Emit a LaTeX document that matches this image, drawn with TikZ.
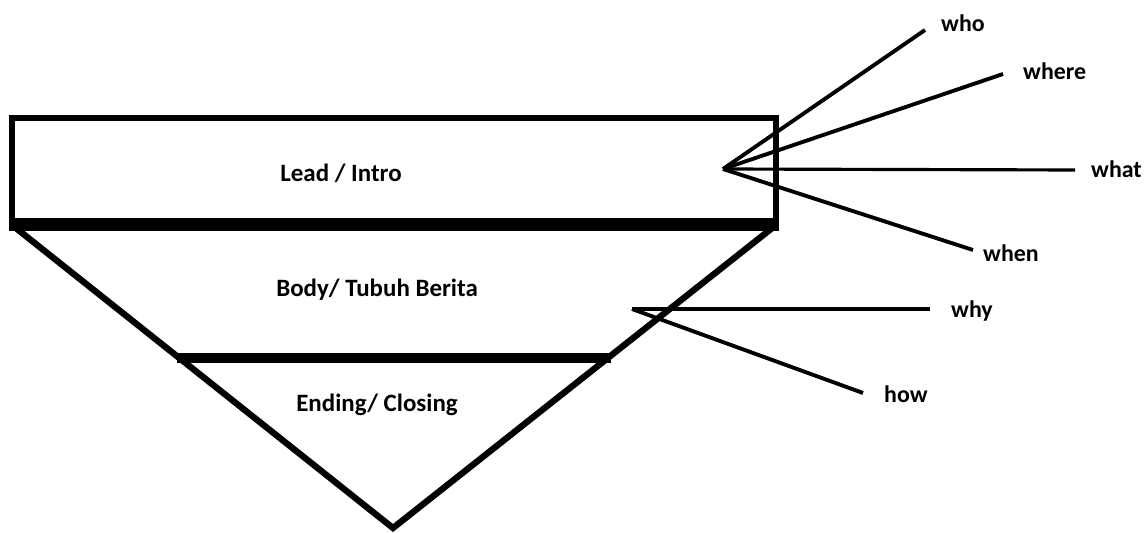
\documentclass[tikz,border=0pt]{standalone}
\usepackage{fontspec}
\setmainfont{Carlito}
\usetikzlibrary{positioning,calc}

\tikzset{
  part/.style={font=\fontsize{14.2}{17}\selectfont\bfseries, anchor=base},
  ask/.style={font=\fontsize{13.6}{17}\selectfont\bfseries, anchor=base west},
  frame/.style={line width=3.4pt},
  ray/.style={line width=2.2pt}
}

\begin{document}
\begin{tikzpicture}[x=0.02cm,y=-0.02cm]
		\useasboundingbox (0,0) rectangle (1147,533);
		% pyramid
		\coordinate (tl) at (12,118);
		\coordinate (tr) at (776,118);
		\coordinate (bl) at (12,225);
		\coordinate (br) at (776,225);
		\coordinate (apex) at (393,528);
		\coordinate (ml) at (177,358);
		\coordinate (mr) at (611,358);
		\draw [frame] (bl)--(tl)--(tr)--(br);
		\draw [line width=7.4pt] ([xshift=-1.7pt]bl)--([xshift=1.7pt]br);
		\draw [frame,line width=3.6pt] (bl)--(apex)--(br);
		\draw [line width=5.7pt] (ml)--(mr);
		\node [part] (lead) at (341,182) {Lead / Intro};
		\node [part] (body) at (377,297) {Body/ Tubuh Berita};
		\node [part] (end) at (377,412) {Ending/ Closing};
		% 5W
		\coordinate (fan) at (723,169);
		\node [ask] (who) at (935,32) {who};
		\node [ask] (where) at (1017,80) {where};
		\node [ask] (what) at (1085,178) {what};
		\node [ask] (when) at (977,262) {when};
		\coordinate (whoend) at (925,30);
		\coordinate (whereend) at (1003,74);
		\coordinate (whatend) at (1075,170);
		\coordinate (whenend) at (973,250);
		\draw [ray] (fan)--(whoend);
		\draw [ray] (fan)--(whereend);
		\draw [ray,line width=1.8pt] (fan)--(whatend);
		\draw [ray] (fan)--(whenend);
		% 1H
		\coordinate (fan2) at (632,309);
		\node [ask] (why) at (945,318) {why};
		\node [ask] (how) at (878,403) {how};
		\coordinate (whyend) at (930,309);
		\coordinate (howend) at (863,393);
		\draw [ray,line width=1.8pt] (fan2)--(whyend);
		\draw [ray] (fan2)--(howend);
\end{tikzpicture}
\end{document}
